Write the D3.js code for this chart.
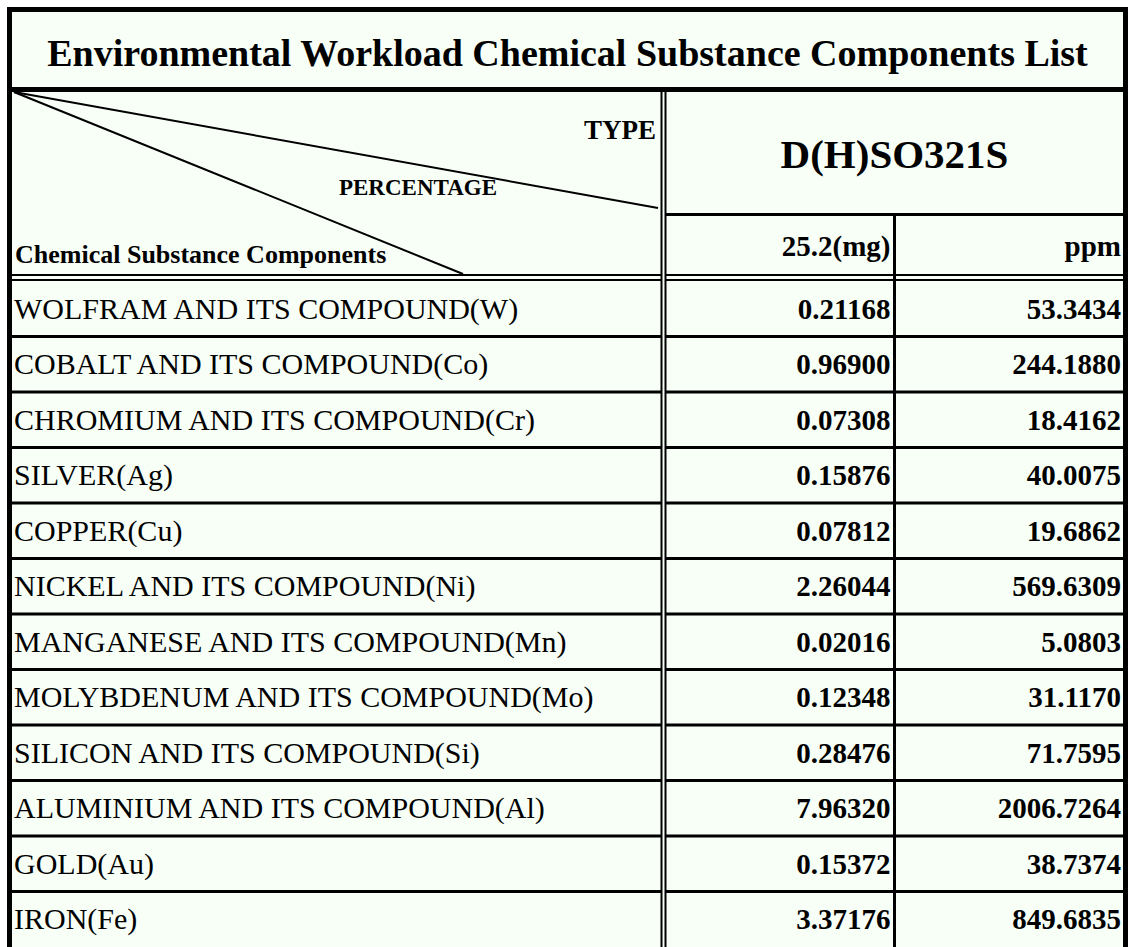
<!DOCTYPE html>
<html>
<head>
<meta charset="utf-8">
<script src="https://cdn.jsdelivr.net/npm/d3@7"></script>
<style>
  body { margin: 0; background: #fff; }
  svg text { font-family: "Liberation Serif", "Times New Roman", serif; fill: #000; }
</style>
</head>
<body>
<div id="area1"></div>
<script>
const W = 1128;
const H = 947;

// table content
const title = "Environmental Workload Chemical Substance Components List";
const typeName = "D(H)SO321S";
const columnHeads = ["25.2(mg)", "ppm"];
const components = [
    "WOLFRAM AND ITS COMPOUND(W)",
    "COBALT AND ITS COMPOUND(Co)",
    "CHROMIUM AND ITS COMPOUND(Cr)",
    "SILVER(Ag)",
    "COPPER(Cu)",
    "NICKEL AND ITS COMPOUND(Ni)",
    "MANGANESE AND ITS COMPOUND(Mn)",
    "MOLYBDENUM AND ITS COMPOUND(Mo)",
    "SILICON AND ITS COMPOUND(Si)",
    "ALUMINIUM AND ITS COMPOUND(Al)",
    "GOLD(Au)",
    "IRON(Fe)"
];
const mgValues = ["0.21168", "0.96900", "0.07308", "0.15876", "0.07812", "2.26044",
                  "0.02016", "0.12348", "0.28476", "7.96320", "0.15372", "3.37176"];
const ppmValues = ["53.3434", "244.1880", "18.4162", "40.0075", "19.6862", "569.6309",
                   "5.0803", "31.1170", "71.7595", "2006.7264", "38.7374", "849.6835"];

const rows = components.map((c, i) => ({ name: c, mg: mgValues[i], ppm: ppmValues[i] }));

// layout
const left = 12, right = 1123;
const colA = 661;   // left column / values double line
const colB = 894.5; // mg / ppm divider
const rowTop = 281;

let svg1 = d3.select("#area1")
    .append("svg")
    .attr("width", W)
    .attr("height", H);

svg1.append("rect")
    .attr("x", 0).attr("y", 0)
    .attr("width", W).attr("height", H)
    .attr("fill", "#fff");

svg1.append("rect")
    .attr("x", left).attr("y", 12)
    .attr("width", right - left).attr("height", H - 12)
    .attr("fill", "#f7fff7");

// row scale
let y = d3.scaleBand()
    .domain(components)
    .range([rowTop, rowTop + components.length * 55.5])
    .paddingInner(0);

function line(x1, y1, x2, y2, w) {
    svg1.append("line")
        .attr("x1", x1).attr("y1", y1)
        .attr("x2", x2).attr("y2", y2)
        .attr("stroke", "#000")
        .attr("stroke-width", w);
}

// row separators
svg1.selectAll(".rowline")
    .data(components.slice(1))
    .enter()
    .append("line")
    .attr("class", "rowline")
    .attr("x1", left).attr("x2", right)
    .attr("y1", d => y(d)).attr("y2", d => y(d))
    .attr("stroke", "#000")
    .attr("stroke-width", 3);

// header / data double line
line(left, 275, right, 275, 2);
line(left, 280, right, 280, 2);

// line under type name
line(colA + 5, 214.5, right, 214.5, 3);

// title line
line(left, 89.5, right, 89.5, 5);

// double vertical line, background gap
svg1.append("rect")
    .attr("x", colA + 1).attr("y", 92)
    .attr("width", 3).attr("height", H - 92)
    .attr("fill", "#f7fff7");
line(colA + 0.5, 92, colA + 0.5, H, 2);
line(colA + 4.5, 92, colA + 4.5, H, 2);

// mg / ppm divider
line(colB, 216, colB, H, 3);

// outer frame
line(left - 2.5, 7, left - 2.5, H, 5);
line(right + 2.5, 7, right + 2.5, H, 5);
line(7, 9.5, W, 9.5, 5);

// diagonal header lines
line(14, 92, colA - 3, 208, 2);
line(14, 92, 463, 274, 2);

// texts
svg1.append("text")
    .attr("x", (left + right) / 2).attr("y", 66)
    .attr("text-anchor", "middle")
    .attr("font-size", 38).attr("font-weight", "bold")
    .text(title);

svg1.append("text")
    .attr("x", colA - 5).attr("y", 139)
    .attr("text-anchor", "end")
    .attr("font-size", 27).attr("font-weight", "bold")
    .text("TYPE");

svg1.append("text")
    .attr("x", 497).attr("y", 195)
    .attr("text-anchor", "end")
    .attr("font-size", 23).attr("font-weight", "bold")
    .text("PERCENTAGE");

svg1.append("text")
    .attr("x", 15).attr("y", 263)
    .attr("font-size", 26).attr("font-weight", "bold")
    .text("Chemical Substance Components");

svg1.append("text")
    .attr("x", (colA + 5 + right) / 2).attr("y", 168)
    .attr("text-anchor", "middle")
    .attr("font-size", 41).attr("font-weight", "bold")
    .text(typeName);

svg1.selectAll(".colhead")
    .data(columnHeads)
    .enter()
    .append("text")
    .attr("class", "colhead")
    .attr("x", (d, i) => i === 0 ? colB - 4 : right - 2)
    .attr("y", 256)
    .attr("text-anchor", "end")
    .attr("font-size", 29).attr("font-weight", "bold")
    .text(d => d);

// data rows
let g = svg1.selectAll(".row")
    .data(rows)
    .enter()
    .append("g")
    .attr("class", "row")
    .attr("transform", d => "translate(0," + (y(d.name) + y.bandwidth() / 2) + ")");

g.append("text")
    .attr("x", 14).attr("y", 10)
    .attr("font-size", 30)
    .text(d => d.name);

g.append("text")
    .attr("x", colB - 4).attr("y", 10)
    .attr("text-anchor", "end")
    .attr("font-size", 29).attr("font-weight", "bold")
    .text(d => d.mg);

g.append("text")
    .attr("x", right - 2).attr("y", 10)
    .attr("text-anchor", "end")
    .attr("font-size", 29).attr("font-weight", "bold")
    .text(d => d.ppm);
</script>
</body>
</html>
